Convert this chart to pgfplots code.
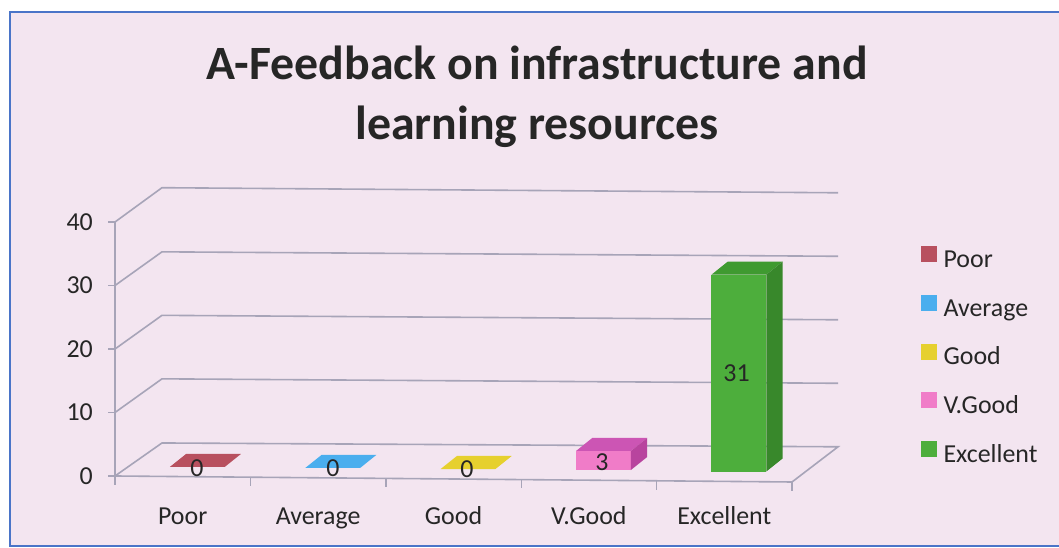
\documentclass[border=0pt]{standalone}
\usepackage{fontspec}
\setmainfont{Carlito}
\usepackage{pgfplots}
\pgfplotsset{compat=1.18}
\definecolor{bg}{HTML}{F3E5F0}
\definecolor{gridc}{HTML}{A7A4B8}
\definecolor{borderc}{HTML}{4A74C8}
\definecolor{poorC}{HTML}{B8505F}
\definecolor{avgC}{HTML}{4AAEEE}
\definecolor{goodC}{HTML}{E6D02E}
\definecolor{vgC}{HTML}{F07CC8}
\definecolor{vgTop}{HTML}{CC55B4}
\definecolor{vgSide}{HTML}{B8449E}
\definecolor{exC}{HTML}{4DAE3C}
\definecolor{exTop}{HTML}{3F9A30}
\definecolor{exSide}{HTML}{38882B}
\begin{document}
\begin{tikzpicture}[x=1bp,y=1bp]
\path[use as bounding box] (0,0) rectangle (1059,548);
\fill[white] (0,0) rectangle (1059,548);
\fill[bg] (10,2) rectangle (1059,536);
\draw[borderc, line width=1.5bp] (1059,536) -- (10,536) -- (10,2) -- (1059,2);
\node[anchor=base, font=\fontsize{48}{58}\selectfont\bfseries, text=black!85] at (537,468) {A-Feedback on infrastructure and};
\node[anchor=base, font=\fontsize{48}{58}\selectfont\bfseries, text=black!85] at (537,408) {learning resources};
\begin{axis}[
  at={(115bp,72bp)}, anchor=south west, scale only axis,
  width=677bp, height=254bp,
  xmin=-0.5, xmax=4.5, ymin=0, ymax=40, clip=false,
  axis line style={draw=none},
  ytick={0,10,20,30,40}, ytick pos=left, tick align=outside,
  major tick length=7bp,
  ytick style={gridc, line width=1.4bp},
  xtick={0,1,2,3,4}, xticklabels={Poor,Average,Good,V.Good,Excellent},
  xtick pos=bottom, xtick style={draw=none},
  tick label style={font=\fontsize{26}{31}\selectfont, text=black!85, inner sep=0pt},
  /pgf/number format/assume math mode=true,
  yticklabel style={anchor=east, xshift=-15bp},
  xticklabel style={anchor=base, yshift=-42bp},
  unbounded coords=jump,
  legend image code/.code={\fill[#1] (0bp,0bp) rectangle (15bp,15bp);},
  legend cell align=left,
  legend style={at={(axis description cs:1.1905,0.9055)}, anchor=north west,
    draw=none, fill=none, inner sep=0pt, row sep=21.5bp, column sep=7bp,
    font=\fontsize{26}{31}\selectfont,
    nodes={inner sep=0pt, text height=18bp, text depth=6bp, text=black!85}},
]
% walls, floor and grid
\addplot[gridc, line width=1.6bp, forget plot] coordinates {
  (-0.5,0) (4.5,-0.945) (4.84,4.6) (-0.153,5.2) (-0.5,0)};
\addplot[gridc, line width=1.6bp, forget plot] coordinates {
  (-0.5,10) (-0.153,15.3) (4.84,14.6) (0,nan)
  (-0.5,20) (-0.153,25.3) (4.84,24.6) (0,nan)
  (-0.5,30) (-0.153,35.3) (4.84,34.6) (0,nan)
  (-0.5,40) (-0.153,45.4) (4.84,44.6)};
\addplot[gridc, line width=1.6bp, forget plot] coordinates {(-0.5,0) (-0.5,40)};
\addplot[gridc, line width=1.4bp, forget plot] coordinates {
  (-0.5,0) (-0.5,-1.4) (0,nan)
  (0.5,-0.189) (0.5,-1.589) (0,nan)
  (1.5,-0.378) (1.5,-1.778) (0,nan)
  (2.5,-0.567) (2.5,-1.967) (0,nan)
  (3.5,-0.756) (3.5,-2.156) (0,nan)
  (4.5,-0.945) (4.5,-2.345)};
% Poor = 0
\addplot[fill=poorC, draw=none, forget plot] coordinates {(-0.095,1.42) (0.31,1.42) (0.43,3.47) (0.025,3.47)} -- cycle;
% Average = 0
\addplot[fill=avgC, draw=none, forget plot] coordinates {(0.905,1.26) (1.31,1.26) (1.43,3.31) (1.025,3.31)} -- cycle;
% Good = 0
\addplot[fill=goodC, draw=none, forget plot] coordinates {(1.905,1.10) (2.31,1.10) (2.43,3.15) (2.025,3.15)} -- cycle;
% V.Good = 3 (base 0.94)
\addplot[fill=vgC, draw=none, forget plot] coordinates {(2.905,0.94) (3.31,0.94) (3.31,3.94) (2.905,3.94)} -- cycle;
\addplot[fill=vgTop, draw=none, forget plot] coordinates {(2.905,3.94) (3.31,3.94) (3.43,5.99) (3.025,5.99)} -- cycle;
\addplot[fill=vgSide, draw=none, forget plot] coordinates {(3.31,0.94) (3.43,2.99) (3.43,5.99) (3.31,3.94)} -- cycle;
% Excellent = 31 (base 0.7)
\addplot[fill=exC, draw=none, forget plot] coordinates {(3.905,0.7) (4.31,0.7) (4.31,31.7) (3.905,31.7)} -- cycle;
\addplot[fill=exTop, draw=none, forget plot] coordinates {(3.905,31.7) (4.31,31.7) (4.43,33.75) (4.025,33.75)} -- cycle;
\addplot[fill=exSide, draw=none, forget plot] coordinates {(4.31,0.7) (4.43,2.75) (4.43,33.75) (4.31,31.7)} -- cycle;
% data labels
\addplot[only marks, mark=none, forget plot, point meta=explicit symbolic,
  nodes near coords,
  every node near coord/.append style={anchor=center, inner sep=0pt, yshift=0pt,
    font=\fontsize{26}{31}\selectfont, text=black!85}]
  coordinates {(0.106,1.2)[0] (1.11,1.25)[0] (2.1,1.1)[0] (3.097,2.2)[3] (4.09,16.2)[31]};
\addlegendimage{poorC}\addlegendentry{Poor}
\addlegendimage{avgC}\addlegendentry{Average}
\addlegendimage{goodC}\addlegendentry{Good}
\addlegendimage{vgC}\addlegendentry{V.Good}
\addlegendimage{exC}\addlegendentry{Excellent}
\end{axis}
\end{tikzpicture}
\end{document}
